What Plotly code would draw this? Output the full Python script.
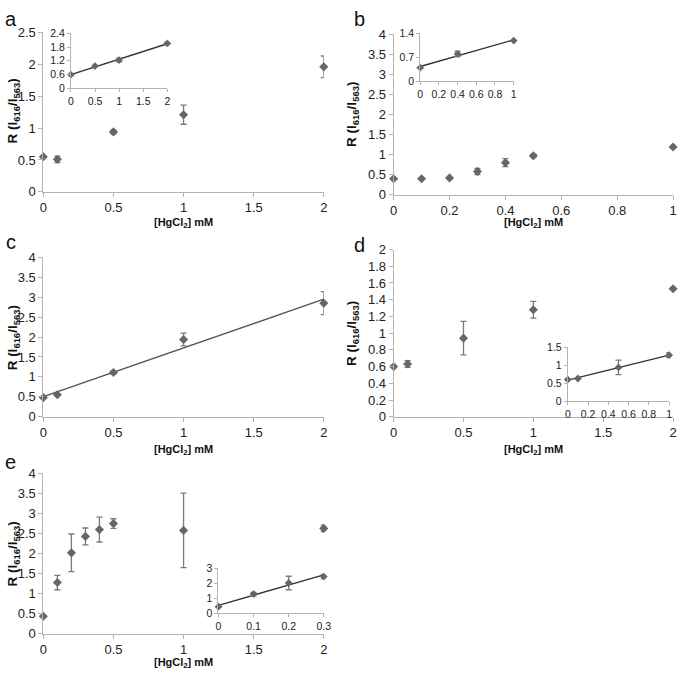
import numpy as np
import plotly.graph_objects as go

W, H = 685, 679

# ---------------- data ----------------
a_x = [0, 0.1, 0.5, 1, 2]
a_y = [0.55, 0.51, 0.94, 1.21, 1.96]
a_err = [0.0, 0.05, 0.03, 0.15, 0.17]
a_in_x = [0, 0.5, 1, 2]
a_in_y = [0.59, 0.97, 1.23, 1.96]
a_in_err = [0.0, 0.0, 0.08, 0.06]

b_x = [0, 0.1, 0.2, 0.3, 0.4, 0.5, 1]
b_y = [0.40, 0.40, 0.42, 0.58, 0.80, 0.97, 1.19]
b_err = [0.0, 0.0, 0.0, 0.08, 0.10, 0.04, 0.0]
b_in_x = [0, 0.4, 1]
b_in_y = [0.40, 0.80, 1.19]
b_in_err = [0.0, 0.08, 0.0]

c_x = [0, 0.1, 0.5, 1, 2]
c_y = [0.48, 0.55, 1.11, 1.94, 2.85]
c_err = [0.0, 0.0, 0.04, 0.16, 0.29]

d_x = [0, 0.1, 0.5, 1, 2]
d_y = [0.60, 0.63, 0.94, 1.28, 1.53]
d_err = [0.0, 0.04, 0.20, 0.10, 0.0]
d_in_x = [0, 0.1, 0.5, 1]
d_in_y = [0.60, 0.63, 0.94, 1.28]
d_in_err = [0.0, 0.0, 0.20, 0.07]

e_x = [0, 0.1, 0.2, 0.3, 0.4, 0.5, 1, 2]
e_y = [0.44, 1.28, 2.02, 2.43, 2.60, 2.75, 2.58, 2.63]
e_err = [0.0, 0.18, 0.47, 0.21, 0.31, 0.12, 0.93, 0.08]
e_in_x = [0, 0.1, 0.2, 0.3]
e_in_y = [0.44, 1.28, 2.02, 2.45]
e_in_err = [0.0, 0.12, 0.45, 0.14]

x_title = "<b>[HgCl<sub>2</sub>] mM</b>"
y_title = "<b>R (I<sub>616</sub>/I<sub>563</sub>)</b>"

MARKER = "#666666"
AXIS = "#b3b3b3"
FONT = "Liberation Sans, Arial, sans-serif"

fig = go.Figure()
layout = {}
annotations = []
axis_count = [0]


def px_x(p):
    return p / W


def px_y(p):
    return 1 - p / H


def add_axes(x0, x1, ybot, ytop, xr, yr, xdt, ydt, tsize, ticklen=4):
    axis_count[0] += 1
    n = axis_count[0]
    xa = "xaxis" if n == 1 else f"xaxis{n}"
    ya = "yaxis" if n == 1 else f"yaxis{n}"
    xref = "x" if n == 1 else f"x{n}"
    yref = "y" if n == 1 else f"y{n}"
    common = dict(showgrid=False, zeroline=False, showline=True, linecolor=AXIS,
                  linewidth=1, ticks="outside", tickcolor=AXIS, ticklen=ticklen,
                  ticklabeloverflow="allow",
                  tickfont=dict(family=FONT, size=tsize, color="#222222"))
    layout[xa] = dict(domain=[px_x(x0), px_x(x1)], range=xr, dtick=xdt, tick0=0,
                      anchor=yref, **common)
    layout[ya] = dict(domain=[px_y(ybot), px_y(ytop)], range=yr, dtick=ydt, tick0=0,
                      anchor=xref, **common)
    return xref, yref


def add_points(xs, ys, errs, xref, yref, msize=7):
    fig.add_trace(go.Scatter(
        x=xs, y=ys, mode="markers", xaxis=xref, yaxis=yref, cliponaxis=False,
        marker=dict(symbol="diamond", size=msize, color=MARKER),
        error_y=dict(type="data", array=errs, visible=True, color="#7a7a7a",
                     thickness=1.3, width=3),
        showlegend=False, hoverinfo="x+y"))


def add_fit(xs, ys, xref, yref, color="#333333", width=1.4):
    k, b = np.polyfit(xs, ys, 1)
    xx = np.array([min(xs), max(xs)])
    fig.add_trace(go.Scatter(x=xx, y=k * xx + b, mode="lines", xaxis=xref, yaxis=yref,
                             line=dict(color=color, width=width), cliponaxis=False,
                             showlegend=False, hoverinfo="skip"))


def label(text, x, y, size=11, angle=0):
    annotations.append(dict(text=text, x=px_x(x), y=px_y(y), xref="paper", yref="paper",
                            showarrow=False, textangle=angle, xanchor="center",
                            yanchor="middle",
                            font=dict(family=FONT, size=size, color="#111111")))


YT = 13.5

# ---- panel a ----
xr, yr = add_axes(40, 325, 189, 26, [0, 2], [0, 2.5], 0.5, 0.5, 13)
add_points(a_x, a_y, a_err, xr, yr)
xr, yr = add_axes(68, 166, 83, 27, [0, 2], [0, 2.4], 0.5, 0.6, 10.5, 3)
add_fit(a_in_x, a_in_y, xr, yr)
add_points(a_in_x, a_in_y, a_in_err, xr, yr, 6)
label("a", 7, 12, 20)
label(y_title, 10, 106, YT, -90)
label(x_title, 182, 221, 11)

# ---- panel b ----
xr, yr = add_axes(396, 680, 192, 28, [0, 1], [0, 4], 0.2, 0.5, 13)
add_points(b_x, b_y, b_err, xr, yr)
xr, yr = add_axes(423, 518, 76, 27, [0, 1], [0, 1.4], 0.2, 0.7, 10.5, 3)
add_fit(b_in_x, b_in_y, xr, yr)
add_points(b_in_x, b_in_y, b_in_err, xr, yr, 6)
label("b", 361, 12, 20)
label(y_title, 354, 110, YT, -90)
label(x_title, 538, 221, 11)

# ---- panel c ----
xr, yr = add_axes(40, 325, 419, 256, [0, 2], [0, 4], 0.5, 0.5, 13)
add_fit(c_x, c_y, xr, yr, "#555555", 1.4)
add_points(c_x, c_y, c_err, xr, yr)
label("c", 7, 240, 20)
label(y_title, 10, 338, YT, -90)
label(x_title, 182, 453, 11)

# ---- panel d ----
xr, yr = add_axes(396, 680, 419, 248, [0, 2], [0, 2], 0.5, 0.2, 13)
add_points(d_x, d_y, d_err, xr, yr)
xr, yr = add_axes(573, 676, 403, 348, [0, 1], [0, 1.5], 0.2, 0.5, 10.5, 3)
add_fit(d_in_x, d_in_y, xr, yr)
add_points(d_in_x, d_in_y, d_in_err, xr, yr, 6)
label("d", 361, 243, 20)
label(y_title, 354, 334, YT, -90)
label(x_title, 538, 453, 11)

# ---- panel e ----
xr, yr = add_axes(40, 325, 641, 477, [0, 2], [0, 4], 0.5, 0.5, 13)
add_points(e_x, e_y, e_err, xr, yr)
xr, yr = add_axes(218, 325, 620, 574, [0, 0.3], [0, 3], 0.1, 1, 10.5, 3)
add_fit(e_in_x, e_in_y, xr, yr)
add_points(e_in_x, e_in_y, e_in_err, xr, yr, 6)
label("e", 7, 465, 20)
label(y_title, 10, 559, YT, -90)
label(x_title, 182, 671, 11)

fig.update_layout(width=W, height=H, margin=dict(l=0, r=0, t=0, b=0),
                  paper_bgcolor="white", plot_bgcolor="rgba(0,0,0,0)",
                  showlegend=False, annotations=annotations,
                  font=dict(family=FONT), **layout)

fig.write_html("out.html", config={"displayModeBar": False},
               post_script="document.body.style.margin='0px';document.body.style.overflow='hidden';")
